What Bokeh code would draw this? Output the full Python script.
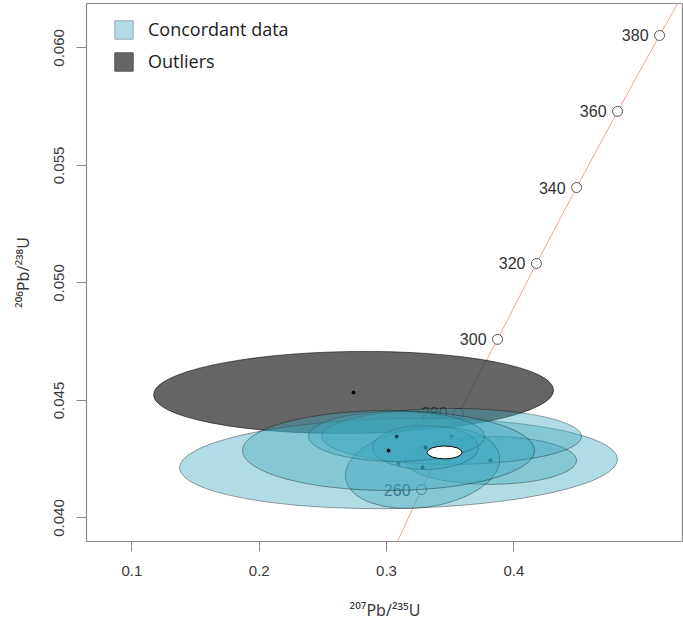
from bokeh.plotting import figure
from bokeh.models import ColumnDataSource, Range1d, FixedTicker, Legend, LegendItem, PrintfTickFormatter
from bokeh.core.properties import value
from bokeh.embed import file_html
from bokeh.resources import INLINE

# ---- data ----
concordia_age = [260, 280, 300, 320, 340, 360, 380]
concordia_x = [0.3275, 0.3566, 0.3872, 0.4178, 0.4493, 0.4815, 0.5145]
concordia_y = [0.04121, 0.04445, 0.04760, 0.05083, 0.05406, 0.05730, 0.06053]
concordia_line_x = [0.2997, 0.3275, 0.3566, 0.3872, 0.4178, 0.4493, 0.4815, 0.5145, 0.5485]
concordia_line_y = [0.03797, 0.04121, 0.04445, 0.04760, 0.05083, 0.05406, 0.05730, 0.06053, 0.06378]

# concordant analyses (error ellipses), in drawing order
ell_x = [0.3094, 0.3817, 0.3511, 0.3283, 0.3306, 0.3079, 0.3016]
ell_y = [0.04232, 0.04245, 0.04347, 0.04215, 0.04300, 0.04347, 0.04287]
ell_w = [0.3441, 0.1351, 0.2042, 0.1225, 0.0833, 0.1383, 0.2294]
ell_h = [0.00383, 0.00204, 0.00238, 0.00340, 0.00187, 0.00213, 0.00340]
ell_angle = [0.02, 0.0, 0.0, 0.14, 0.0, 0.0, 0.0]

# outlier
out_x = [0.2741]
out_y = [0.04534]
out_w = [0.3142]
out_h = [0.00349]
out_angle = [0.012]

# concordia age ellipse
mean_x = [0.3456]
mean_y = [0.04279]
mean_w = [0.0275]
mean_h = [0.00055]

x_ticks = [0.1, 0.2, 0.3, 0.4]
y_ticks = [0.040, 0.045, 0.050, 0.055, 0.060]

BLUE = "#3ea7be"
DARK = "#323232"

p = figure(width=683, height=626, output_backend="svg", toolbar_location=None,
           x_range=Range1d(0.0643, 0.5333), y_range=Range1d(0.0390, 0.06189),
           min_border_left=86, min_border_right=0, min_border_top=3, min_border_bottom=85)
p.grid.visible = False
p.outline_line_color = "#8a8a8a"
p.outline_line_width = 1.2

for ax in (p.xaxis[0], p.yaxis[0]):
    ax.axis_line_color = None
    ax.major_tick_line_color = "#8a8a8a"
    ax.major_tick_out = 10
    ax.major_tick_in = 0
    ax.minor_tick_line_color = None
    ax.major_label_text_font = "Liberation Sans"
    ax.major_label_text_font_size = "15px"
    ax.major_label_text_color = "#3a3a3a"
    ax.axis_label_text_font = "Noto Sans"
    ax.axis_label_text_font_size = "16px"
    ax.axis_label_text_font_style = "normal"
    ax.axis_label_text_color = "#3a3a3a"

p.xaxis.ticker = FixedTicker(ticks=x_ticks)
p.yaxis.ticker = FixedTicker(ticks=y_ticks)
p.yaxis.formatter = PrintfTickFormatter(format="%.3f")
p.yaxis.major_label_orientation = "vertical"
p.xaxis.major_label_standoff = 14
p.yaxis.major_label_standoff = 12
p.xaxis.axis_label = "²⁰⁷Pb/²³⁵U"
p.yaxis.axis_label = "²⁰⁶Pb/²³⁸U"
p.xaxis.axis_label_standoff = 20
p.yaxis.axis_label_standoff = 18

# concordia
p.line(concordia_line_x, concordia_line_y, line_color="#f4a28c", line_width=1)
csrc = ColumnDataSource(dict(x=concordia_x, y=concordia_y, t=[str(a) for a in concordia_age]))
p.scatter("x", "y", source=csrc, size=10, fill_color="white", line_color="#555555", line_width=1)
p.text("x", "y", text="t", source=csrc, x_offset=-11, text_align="right", text_baseline="middle",
       text_font=value("Liberation Sans"), text_font_size="16px", text_color="#333333")

# outlier
osrc = ColumnDataSource(dict(x=out_x, y=out_y, w=out_w, h=out_h, a=out_angle))
r_out = p.ellipse("x", "y", width="w", height="h", angle="a", source=osrc, fill_color=DARK, fill_alpha=0.75,
                  line_color="black", line_alpha=0.7, line_width=0.8)
p.scatter("x", "y", source=osrc, size=3, color="black")

# concordant ellipses
for i in range(len(ell_x)):
    s = ColumnDataSource(dict(x=[ell_x[i]], y=[ell_y[i]], w=[ell_w[i]], h=[ell_h[i]], a=[ell_angle[i]]))
    p.ellipse("x", "y", width="w", height="h", angle="a", source=s, fill_color=BLUE, fill_alpha=0.4,
              line_color="black", line_alpha=0.45, line_width=0.8)
    p.scatter("x", "y", source=s, size=3, color="black")

# mean
p.ellipse(mean_x, mean_y, width=mean_w, height=mean_h, fill_color="white", line_color="black", line_width=1)

# legend swatches (hidden renderers, shown only in legend)
lsrc1 = ColumnDataSource(dict(l=[ell_x[0]], r=[ell_x[0]], t=[ell_y[0]], b=[ell_y[0]]))
lsrc2 = ColumnDataSource(dict(l=out_x, r=out_x, t=out_y, b=out_y))
r1 = p.quad(left="l", right="r", top="t", bottom="b", source=lsrc1,
            fill_color=BLUE, fill_alpha=0.4, line_color="#9aa8ac", visible=False)
r2 = p.quad(left="l", right="r", top="t", bottom="b", source=lsrc2,
            fill_color=DARK, fill_alpha=0.75, line_color="#555555", visible=False)
legend = Legend(items=[LegendItem(label="Concordant data", renderers=[r1]),
                       LegendItem(label="Outliers", renderers=[r2])],
                location=(26, 468), padding=0, margin=0, spacing=8,
                glyph_width=23, glyph_height=23, label_standoff=13,
                label_text_font="Open Sans", label_text_font_size="18px", label_text_color="#222222",
                border_line_color=None, background_fill_alpha=0,
                inactive_fill_alpha=0)
p.add_layout(legend)

open("out.html", "w").write(file_html(p, INLINE))
